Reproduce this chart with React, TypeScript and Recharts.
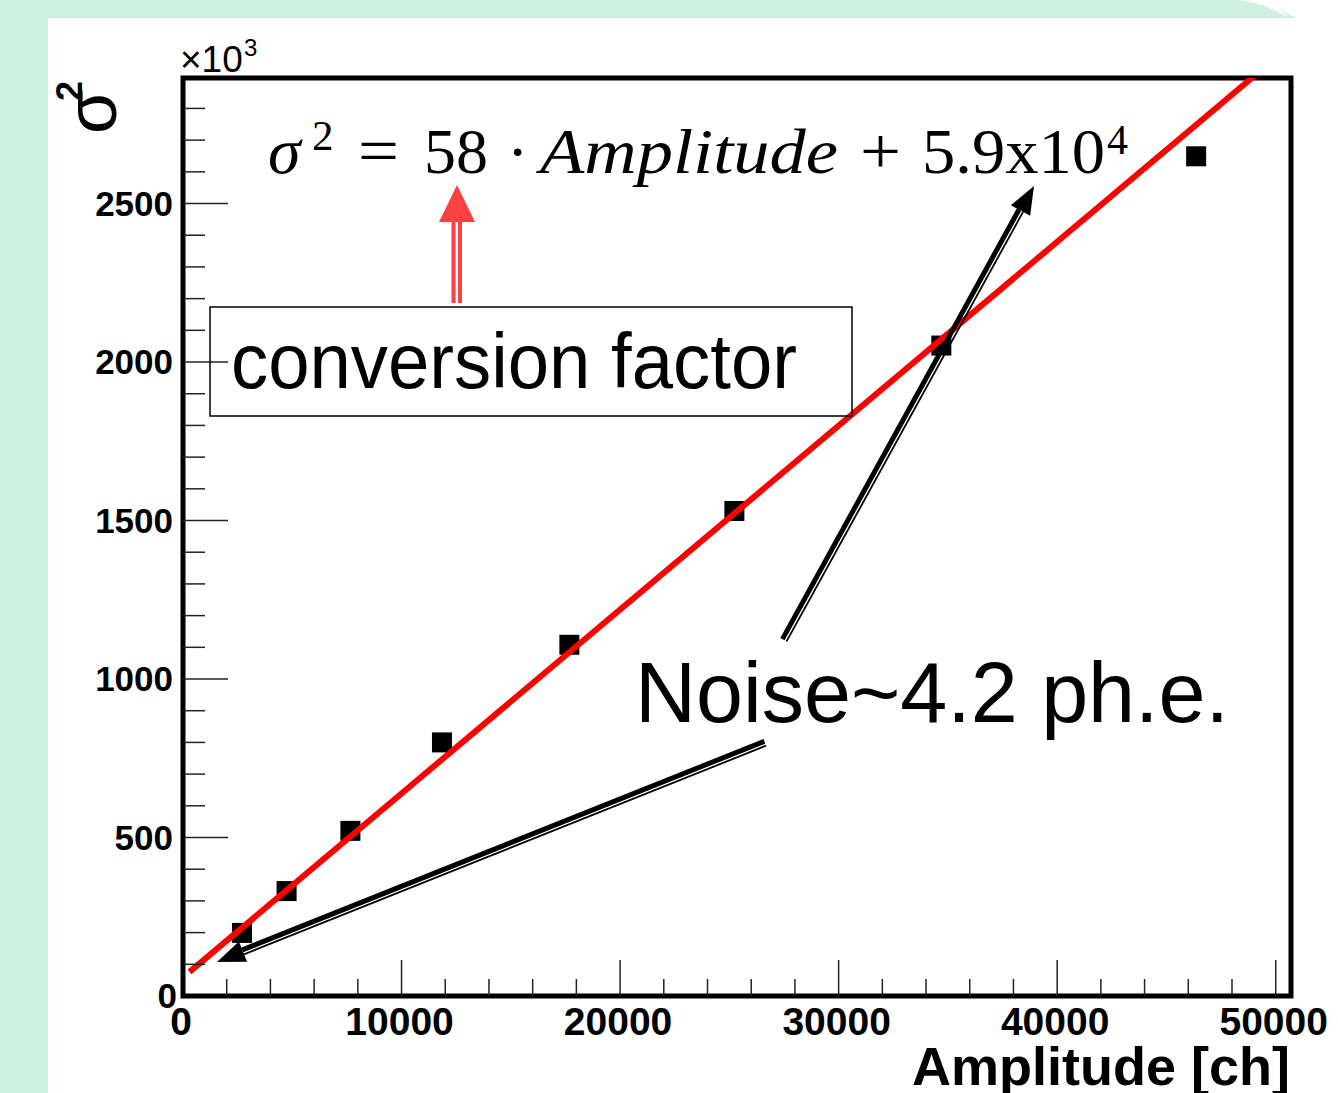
import {
  ComposedChart,
  ReferenceArea,
  Scatter,
  XAxis,
  YAxis,
} from "recharts";

// measured points (sigma^2 in units of 10^3)
const amplitude = [2700, 4740, 7660, 11850, 17680, 25230, 34700, 46360];
const sigma2 = [199, 331, 521, 800, 1108, 1530, 2052, 2649];

// fitted line, end points
const fitAmplitude = [300, 49200];
const fitSigma2 = [76, 2913];

const xTicks = [
  0, 2000, 4000, 6000, 8000, 10000, 12000, 14000, 16000, 18000, 20000, 22000,
  24000, 26000, 28000, 30000, 32000, 34000, 36000, 38000, 40000, 42000, 44000,
  46000, 48000, 50000,
];
const xLabels = [0, 10000, 20000, 30000, 40000, 50000];

const yTicks = [
  0, 100, 200, 300, 400, 500, 600, 700, 800, 900, 1000, 1100, 1200, 1300, 1400,
  1500, 1600, 1700, 1800, 1900, 2000, 2100, 2200, 2300, 2400, 2500, 2600, 2700,
  2800,
];
const yLabels = [0, 500, 1000, 1500, 2000, 2500];

const X_MAX = 50700;
const Y_MAX = 2896;

const points = amplitude.map((x, i) => ({ x, y: sigma2[i] }));
const fit = fitAmplitude.map((x, i) => ({ x, y: fitSigma2[i] }));

const SANS = "'Liberation Sans', Arial, Helvetica, sans-serif";
const SERIF = "'Liberation Serif', 'Times New Roman', serif";
const MINT = "#cff0e0";

function XTick(props: any) {
  const { x, y, payload } = props;
  const v = payload.value;
  const major = xLabels.includes(v);
  return (
    <g>
      {v !== 0 && (
        <line x1={x} y1={y} x2={x} y2={y - (major ? 36 : 17)} stroke="#222" strokeWidth={1.5} />
      )}
      {major && (
        <text x={x - 2} y={y + 39} textAnchor="middle" fontFamily={SANS} fontWeight="bold" fontSize={39} fill="#000">
          {v}
        </text>
      )}
    </g>
  );
}

function YTick(props: any) {
  const { x, y, payload } = props;
  const v = payload.value;
  const major = yLabels.includes(v);
  return (
    <g>
      {v !== 0 && (
        <line x1={x} y1={y} x2={x + (major ? 45 : 22)} y2={y} stroke="#222" strokeWidth={1.5} />
      )}
      {major && (
        <text x={x - (v === 0 ? 6 : 10)} y={y + 12} textAnchor="end" fontFamily={SANS} fontWeight="bold" fontSize={35} fill="#000">
          {v}
        </text>
      )}
    </g>
  );
}

function Square(props: any) {
  const { cx, cy } = props;
  return <rect x={cx - 10} y={cy - 10} width={20} height={20} fill="#000" />;
}

function NoMark() {
  return <g />;
}

// double-line arrow in the PowerPoint style: thick stroke, thin stroke, arrow head
function DoubleArrow({ x1, y1, x2, y2, color, flip }: any) {
  const dx = x2 - x1;
  const dy = y2 - y1;
  const len = Math.hypot(dx, dy);
  const ux = dx / len;
  const uy = dy / len;
  const nx = -uy * (flip ? -1 : 1);
  const ny = ux * (flip ? -1 : 1);
  const head = 28;
  const half = 11;
  const bx = x2 - ux * head;
  const by = y2 - uy * head;
  return (
    <g>
      <line x1={x1 + nx * 1.8} y1={y1 + ny * 1.8} x2={bx + nx * 1.8} y2={by + ny * 1.8} stroke={color} strokeWidth={5} />
      <line x1={x1 - nx * 2.9} y1={y1 - ny * 2.9} x2={bx - nx * 2.9} y2={by - ny * 2.9} stroke={color} strokeWidth={1.8} />
      <polygon
        points={`${x2},${y2} ${bx + nx * half},${by + ny * half} ${bx - nx * half},${by - ny * half}`}
        fill={color}
      />
    </g>
  );
}

export default function App() {
  return (
    <div style={{ position: "absolute", left: 0, top: 0, width: 1338, height: 1093, overflow: "hidden" }}>
      <svg width={1338} height={1093} style={{ position: "absolute", left: 0, top: 0 }}>
        <rect x={0} y={0} width={1338} height={1093} fill={MINT} />
        <rect x={48} y={18} width={1290} height={1075} fill="#fff" />
        <path d="M1241,0 Q1272,6 1297,18 L1338,18 L1338,0 Z" fill="#fff" />
        <path d="M1249,0 Q1270,6 1287,16" fill="none" stroke="#fff" strokeWidth={1.5} />
      </svg>

      <div style={{ position: "absolute", left: 0, top: 0 }}>
        <ComposedChart
          width={1338}
          height={1093}
          margin={{ top: 78, right: 47, bottom: 0, left: 0 }}
        >
          <XAxis
            type="number"
            dataKey="x"
            domain={[0, X_MAX]}
            ticks={xTicks}
            interval={0}
            tick={<XTick />}
            tickLine={false}
            axisLine={false}
            tickSize={0}
            tickMargin={0}
            height={97}
            allowDataOverflow
          />
          <YAxis
            type="number"
            dataKey="y"
            domain={[0, Y_MAX]}
            ticks={yTicks}
            interval={0}
            tick={<YTick />}
            tickLine={false}
            axisLine={false}
            tickSize={0}
            tickMargin={0}
            width={183}
            allowDataOverflow
          />
          <ReferenceArea
            x1={0}
            x2={X_MAX}
            y1={0}
            y2={Y_MAX}
            fill="none"
            fillOpacity={0}
            stroke="#000"
            strokeWidth={5}
            ifOverflow="visible"
          />
          <Scatter data={points} shape={<Square />} isAnimationActive={false} />
          <Scatter
            data={fit}
            shape={<NoMark />}
            line={{ stroke: "#ff0000", strokeWidth: 6 }}
            lineType="joint"
            isAnimationActive={false}
          />
        </ComposedChart>
      </div>

      <svg width={1338} height={1093} style={{ position: "absolute", left: 0, top: 0, pointerEvents: "none" }}>
        {/* axis titles */}
        <text x={180} y={72} fontFamily={SANS} fontSize={37} fill="#000">
          ×10
        </text>
        <text x={244} y={56} fontFamily={SANS} fontSize={24} fill="#000">
          3
        </text>
        <g transform="translate(116,134) rotate(-90)">
          <text x={0} y={0} fontFamily={SANS} fontSize={72} fill="#000">
            σ
          </text>
          <text x={33} y={-34} fontFamily={SANS} fontSize={36} fontWeight="bold" fill="#000">
            2
          </text>
        </g>
        <text x={1290} y={1085} textAnchor="end" fontFamily={SANS} fontWeight="bold" fontSize={54} fill="#000">
          Amplitude [ch]
        </text>

        {/* fit equation */}
        <g fontFamily={SERIF} fill="#000">
          <text x={268} y={173} fontSize={66} fontStyle="italic">σ</text>
          <text x={312} y={150} fontSize={43}>2</text>
          <text x={358} y={173} fontSize={66} textLength={41} lengthAdjust="spacingAndGlyphs">=</text>
          <text x={424} y={173} fontSize={64}>58</text>
          <text x={507} y={173} fontSize={64}>·</text>
          <text x={540} y={173} fontSize={64} fontStyle="italic" textLength={298} lengthAdjust="spacingAndGlyphs">
            Amplitude
          </text>
          <text x={860} y={173} fontSize={66} textLength={41} lengthAdjust="spacingAndGlyphs">+</text>
          <text x={922} y={173} fontSize={64} textLength={183} lengthAdjust="spacingAndGlyphs">
            5.9x10
          </text>
          <text x={1107} y={154} fontSize={42}>4</text>
        </g>

        {/* conversion factor box and red arrow */}
        <rect x={210} y={307} width={642} height={109} fill="none" stroke="#000" strokeWidth={1.5} />
        <text x={231} y={388} fontFamily={SANS} fontSize={77} fill="#000" textLength={566} lengthAdjust="spacingAndGlyphs">
          conversion factor
        </text>
        <line x1={453.5} y1={303} x2={453.5} y2={220} stroke="#ff4040" strokeWidth={4} />
        <line x1={460} y1={303} x2={460} y2={220} stroke="#ff4040" strokeWidth={4} />
        <polygon points="457,185 439,222 475,222" fill="#ff4040" />

        {/* noise annotation */}
        <text x={635} y={722} fontFamily={SANS} fontSize={86} fill="#000" textLength={594} lengthAdjust="spacingAndGlyphs">
          Noise~4.2 ph.e.
        </text>
        <DoubleArrow x1={784} y1={640} x2={1034} y2={186} color="#000" flip />
        <DoubleArrow x1={765} y1={743} x2={217} y2={962} color="#000" />
      </svg>
    </div>
  );
}
